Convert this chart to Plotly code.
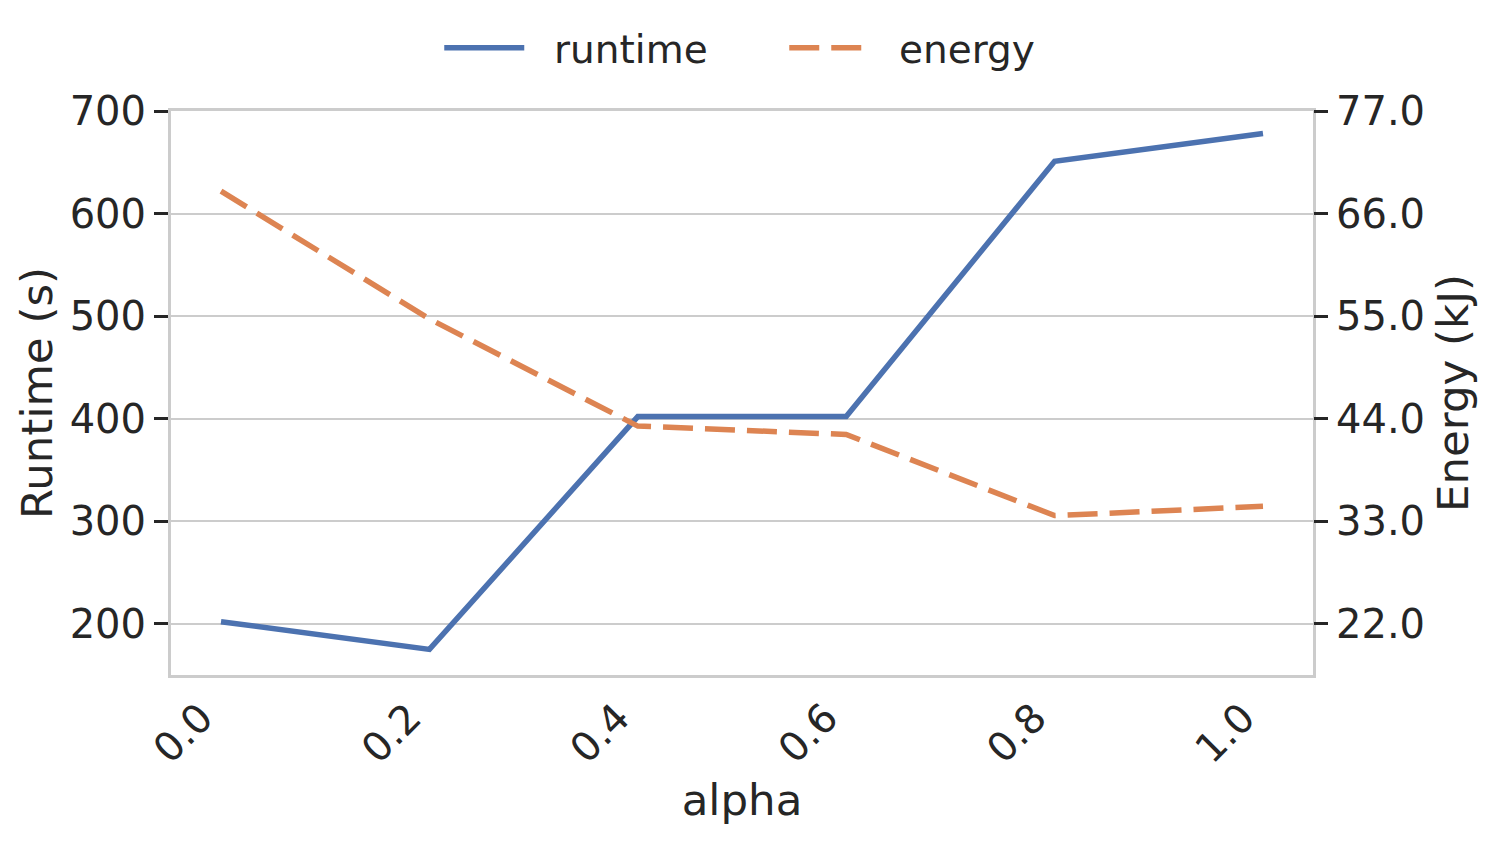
import plotly.graph_objects as go

alpha = [0.0, 0.2, 0.4, 0.6, 0.8, 1.0]
runtime = [202, 175, 402, 402, 651, 678]
energy = [68.4, 54.7, 43.2, 42.3, 33.6, 34.6]
y1_ticks = [200, 300, 400, 500, 600, 700]
y2_ticks = [22.0, 33.0, 44.0, 55.0, 66.0, 77.0]

FONT = "DejaVu Sans"
TXT = "#262626"
GRID = "#cccccc"
FS = 39
TFS = 40
AFS = 43.5
PAD = "\u00a0\u00a0"

fig = go.Figure()
fig.add_trace(go.Scatter(x=alpha, y=runtime, name=PAD + "runtime", mode="lines",
                         line=dict(color="#4c72b0", width=5.5)))
fig.add_trace(go.Scatter(x=alpha, y=energy, name=PAD + "energy", mode="lines", yaxis="y2",
                         line=dict(color="#dd8452", width=5.5, dash="30px,12px")))

fig.update_layout(
    width=1495, height=841,
    margin=dict(l=163, r=190, t=103, b=174, autoexpand=False),
    paper_bgcolor="white", plot_bgcolor="white",
    font=dict(family=FONT, size=FS, color=TXT),
    showlegend=True,
    legend=dict(orientation="h", x=0.537, xref="paper", xanchor="center",
                y=1.055, yanchor="bottom", yref="paper",
                font=dict(size=FS, color=TXT), itemwidth=80,
                entrywidth=250, entrywidthmode="pixels",
                bgcolor="rgba(0,0,0,0)"),
    xaxis=dict(range=[-0.048, 1.048], tickvals=alpha, tickformat=".1f",
               tickangle=-45, showgrid=False, zeroline=False,
               showline=True, mirror=True, linecolor=GRID, linewidth=3,
               ticks="", automargin=False, ticklabelshift=-20,
               title=dict(text="alpha", font=dict(size=AFS), standoff=15),
               tickfont=dict(size=TFS)),
    yaxis=dict(range=[150, 700], tickvals=y1_ticks, showgrid=True, gridcolor=GRID,
               gridwidth=2, zeroline=False, showline=True, mirror=True,
               linecolor=GRID, linewidth=3, ticks="outside", ticklen=14,
               tickwidth=3, tickcolor=TXT, automargin=False,
               title=dict(text="Runtime (s)", font=dict(size=AFS), standoff=4),
               tickfont=dict(size=TFS)),
    yaxis2=dict(range=[16.5, 77], tickvals=y2_ticks, tickformat=".1f",
                overlaying="y", side="right", showgrid=False, zeroline=False,
                showline=False, ticks="outside", ticklen=14, tickwidth=3,
                tickcolor=TXT, automargin=False,
                title=dict(text="Energy (kJ)", font=dict(size=AFS), standoff=13),
                tickfont=dict(size=TFS)),
)

fig.write_html("out.html")
